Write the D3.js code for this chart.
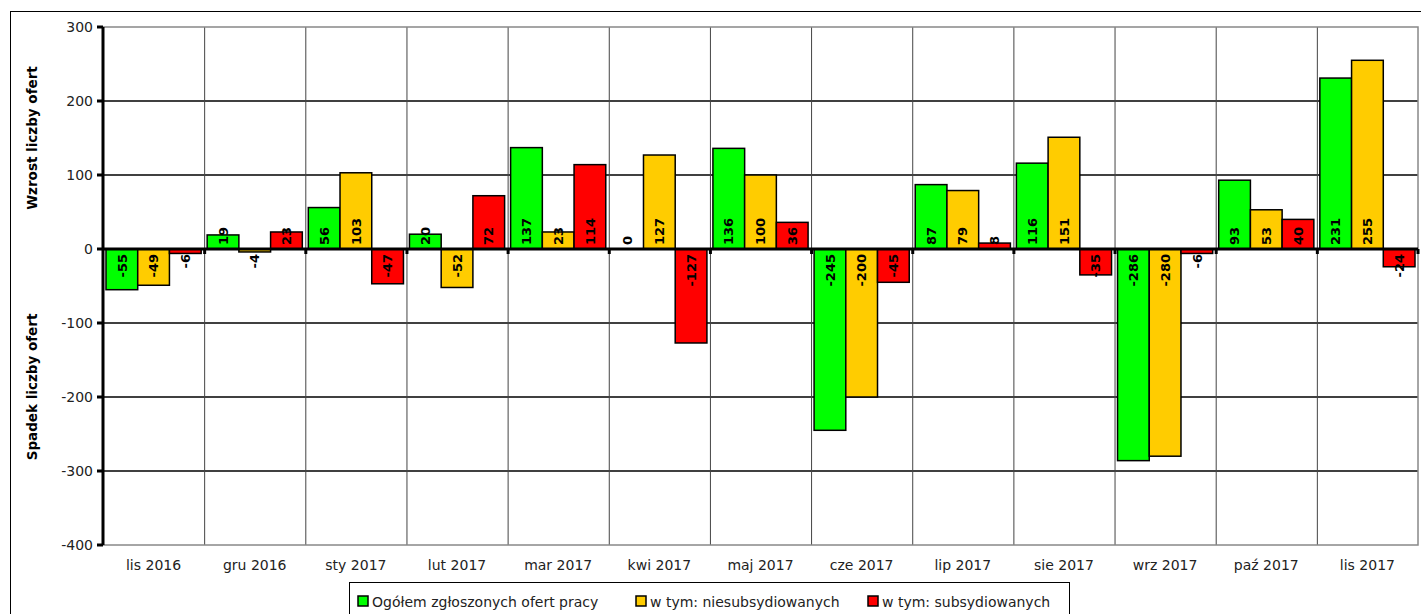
<!DOCTYPE html>
<html>
<head>
<meta charset="utf-8">
<script src="https://cdn.jsdelivr.net/npm/d3@7"></script>
<style>
  body { margin: 0; background: #fff; }
  svg { display: block; font-family: "DejaVu Sans", Verdana, sans-serif; }
</style>
</head>
<body>
<div id="chart"></div>
<script>
var months = ["lis 2016", "gru 2016", "sty 2017", "lut 2017", "mar 2017", "kwi 2017", "maj 2017",
              "cze 2017", "lip 2017", "sie 2017", "wrz 2017", "paź 2017", "lis 2017"]
var ogolem = [-55, 19, 56, 20, 137, 0, 136, -245, 87, 116, -286, 93, 231]
var niesub = [-49, -4, 103, -52, 23, 127, 100, -200, 79, 151, -280, 53, 255]
var subs = [-6, 23, -47, 72, 114, -127, 36, -45, 8, -35, -6, 40, -24]
var seriesNames = ["Ogółem zgłoszonych ofert pracy", "w tym: niesubsydiowanych", "w tym: subsydiowanych"]
var seriesColors = ["#00ff00", "#ffcc00", "#ff0000"]
var yTicks = [300, 200, 100, 0, -100, -200, -300, -400]

function drawChart() {
    var width = 1421
    var height = 614
    var left = 103, right = 1418, top = 27, bottom = 545

    var svg = d3.select("#chart").append("svg")
        .attr("width", width)
        .attr("height", height)

    // outer frame of the chart object
    svg.append("rect")
        .attr("x", 10.5).attr("y", 11.5)
        .attr("width", 1430).attr("height", 620)
        .attr("fill", "none").attr("stroke", "#000").attr("stroke-width", 1)

    var y = d3.scaleLinear().domain([-400, 300]).range([bottom, top])
    var x0 = d3.scaleBand().domain(months).range([left, right])
    var x1 = d3.scaleBand().domain([0, 1, 2]).range([3, x0.bandwidth() - 3])

    var series = [ogolem, niesub, subs]

    // horizontal grid
    svg.append("g").selectAll("line")
        .data(yTicks.filter(d => d != 0 && d != -400 && d != 300))
        .join("line")
        .attr("x1", left).attr("x2", right)
        .attr("y1", d => y(d)).attr("y2", d => y(d))
        .attr("stroke", "#000").attr("stroke-width", 1.5)

    // vertical grid
    svg.append("g").selectAll("line")
        .data(months.slice(1))
        .join("line")
        .attr("x1", d => x0(d) + 0.5).attr("x2", d => x0(d) + 0.5)
        .attr("y1", top).attr("y2", bottom)
        .attr("stroke", "#444").attr("stroke-width", 1)

    // plot border
    svg.append("rect")
        .attr("x", left).attr("y", top)
        .attr("width", right - left).attr("height", bottom - top)
        .attr("fill", "none").attr("stroke", "#888").attr("stroke-width", 1.5)

    // bars
    var groups = svg.append("g").selectAll("g")
        .data(months)
        .join("g")
        .attr("transform", d => "translate(" + x0(d) + ",0)")

    groups.each(function (m, i) {
        var g = d3.select(this)
        series.forEach(function (s, k) {
            var v = s[i]
            g.append("rect")
                .attr("x", x1(k))
                .attr("width", x1.bandwidth())
                .attr("y", y(Math.max(0, v)))
                .attr("height", Math.abs(y(v) - y(0)))
                .attr("fill", seriesColors[k])
                .attr("stroke", "#000")
                .attr("stroke-width", 1.5)
        })
    })

    // zero line
    svg.append("line")
        .attr("x1", left).attr("x2", right)
        .attr("y1", y(0)).attr("y2", y(0))
        .attr("stroke", "#000").attr("stroke-width", 3)

    // x tick marks on zero line
    svg.append("g").selectAll("line")
        .data(months.slice(1).concat(["end"]))
        .join("line")
        .attr("x1", d => d == "end" ? right : x0(d) + 0.5)
        .attr("x2", d => d == "end" ? right : x0(d) + 0.5)
        .attr("y1", y(0)).attr("y2", y(0) + 5)
        .attr("stroke", "#000").attr("stroke-width", 3)

    // value labels
    groups.each(function (m, i) {
        var g = d3.select(this)
        series.forEach(function (s, k) {
            var v = s[i]
            var cx = x1(k) + x1.bandwidth() / 2
            var ty = v < 0 ? y(0) + 5 : y(0) - 4
            g.append("text")
                .attr("transform", "translate(" + cx + "," + ty + ") rotate(-90)")
                .attr("text-anchor", v < 0 ? "end" : "start")
                .attr("dy", "0.36em")
                .attr("font-size", 13)
                .attr("font-weight", "bold")
                .text(v)
        })
    })

    // y axis
    svg.append("line")
        .attr("x1", left).attr("x2", left)
        .attr("y1", top).attr("y2", bottom)
        .attr("stroke", "#000").attr("stroke-width", 3)

    svg.append("g").selectAll("line")
        .data(yTicks)
        .join("line")
        .attr("x1", left - 6).attr("x2", left)
        .attr("y1", d => y(d)).attr("y2", d => y(d))
        .attr("stroke", "#000").attr("stroke-width", 3)

    svg.append("g").selectAll("text")
        .data(yTicks)
        .join("text")
        .attr("x", left - 10)
        .attr("y", d => y(d))
        .attr("dy", "0.35em")
        .attr("text-anchor", "end")
        .attr("font-size", 14)
        .attr("fill", "#222")
        .text(d => d)

    // x labels
    svg.append("g").selectAll("text")
        .data(months)
        .join("text")
        .attr("x", d => x0(d) + x0.bandwidth() / 2)
        .attr("y", 570)
        .attr("text-anchor", "middle")
        .attr("font-size", 14)
        .attr("fill", "#222")
        .text(d => d)

    // y axis titles
    svg.append("text")
        .attr("transform", "translate(37," + y(150) + ") rotate(-90)")
        .attr("text-anchor", "middle")
        .attr("font-size", 13.5)
        .attr("font-weight", "bold")
        .text("Wzrost liczby ofert")

    svg.append("text")
        .attr("transform", "translate(37,387) rotate(-90)")
        .attr("text-anchor", "middle")
        .attr("font-size", 13.5)
        .attr("font-weight", "bold")
        .text("Spadek liczby ofert")

    // legend
    svg.append("rect")
        .attr("x", 349.5).attr("y", 582.5)
        .attr("width", 720).attr("height", 50)
        .attr("fill", "#fff").attr("stroke", "#000").attr("stroke-width", 1)

    var legendX = [358, 636, 868]
    var leg = svg.append("g").selectAll("g")
        .data(seriesNames)
        .join("g")
        .attr("transform", (d, i) => "translate(" + legendX[i] + ",596)")

    leg.append("rect")
        .attr("width", 10).attr("height", 10)
        .attr("fill", (d, i) => seriesColors[i])
        .attr("stroke", "#000").attr("stroke-width", 1.5)

    leg.append("text")
        .attr("x", 14).attr("y", 10.5)
        .attr("font-size", 14)
        .attr("fill", "#222")
        .text(d => d)
}
drawChart()
</script>
</body>
</html>
